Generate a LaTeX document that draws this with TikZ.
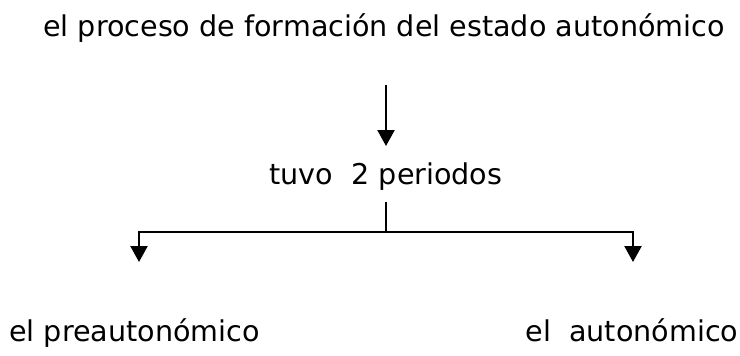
\documentclass[tikz,border=0pt]{standalone}
\usepackage{fontspec}
\setmainfont{DejaVu Sans}
\usetikzlibrary{arrows.meta}
\begin{document}
\begin{tikzpicture}[x=1pt,y=-1pt,
  lbl/.style={anchor=base,inner sep=0pt,font=\fontsize{28.6}{32}\selectfont},
  conn/.style={line width=2.4pt,-{Triangle[length=16pt,width=17pt]}},
  plain/.style={line width=2.4pt}]
\useasboundingbox (0,0) rectangle (740,356);
\node[lbl] (title) at (384,36) {el proceso de formación del estado autonómico};
\node[lbl] (tuvo) at (386,184) {tuvo\ \ 2 periodos};
\node[lbl] (pre) at (134.5,341) {el preautonómico};
\node[lbl] (auto) at (632,341) {el\ \ autonómico};
\coordinate (a1) at (386,85);
\coordinate (a2) at (386,146);
\coordinate (b1) at (386,202);
\coordinate (b2) at (386,232);
\coordinate (l1) at (139,232);
\coordinate (l2) at (139,262);
\coordinate (r1) at (633,232);
\coordinate (r2) at (633,262);
\draw[conn] (a1) -- (a2);
\draw[plain] (b1) -- (b2);
\draw[plain,line cap=rect] (l1) -- (r1);
\draw[conn] (l1) -- (l2);
\draw[conn] (r1) -- (r2);
\end{tikzpicture}
\end{document}
